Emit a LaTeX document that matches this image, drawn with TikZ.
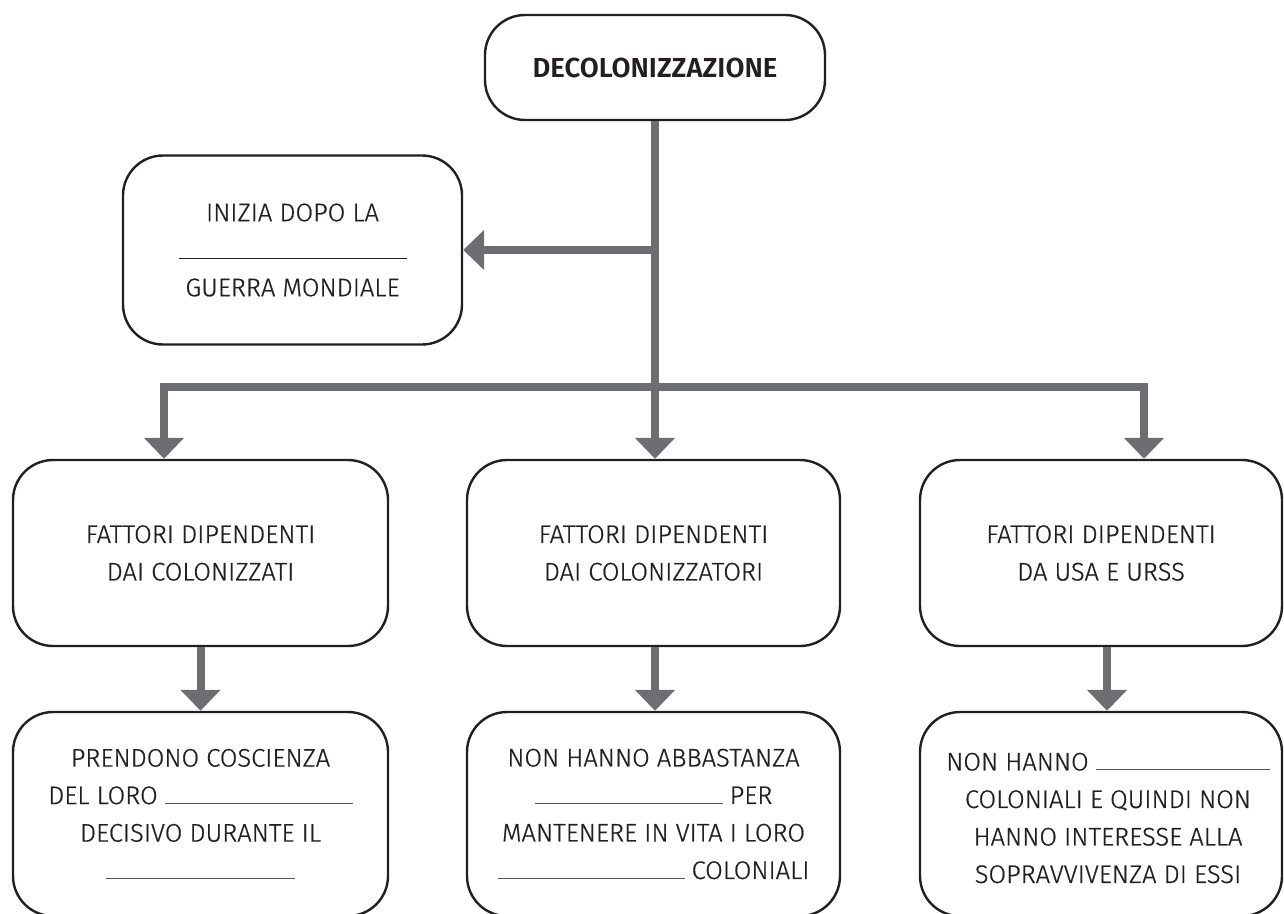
\documentclass[tikz,border=0pt]{standalone}
\usepackage{fontspec}
\setmainfont{Fira Sans}[UprightFont={* Light}, UprightFeatures={FakeBold=0.7}, BoldFont={* SemiBold}]
\usetikzlibrary{arrows.meta}
\definecolor{arr}{HTML}{6D6E71}
\definecolor{txt}{HTML}{231F20}
\definecolor{rulec}{HTML}{58595B}
\newcommand{\blank}[1]{\textcolor{rulec}{\rule{#1}{1.2pt}}}
\begin{document}
\begin{tikzpicture}[x=1pt,y=-1pt,
  box/.style={draw=txt, line width=2.4pt, rounded corners=40pt, align=center, inner sep=0pt,
    font=\fontsize{25.5}{37.5}\selectfont, text=txt},
  plain/.style={align=center, inner sep=0pt, font=\fontsize{25.5}{37.5}\selectfont, text=txt},
  conn/.style={draw=arr, line width=8pt, line join=miter, -{Triangle[width=39pt,length=21pt]}}]
\useasboundingbox (0,0) rectangle (1284,913);
% boxes
\node[box, minimum width=340pt, minimum height=105pt, font=\fontsize{27.5}{30}\selectfont\bfseries] (top) at (655,67.5) {DECOLONIZZAZIONE};
\node[box, minimum width=339pt, minimum height=189pt] (iniz) at (292.5,250) {INIZIA DOPO LA\\\textcolor{txt}{\rule{228pt}{1.2pt}}\\GUERRA MONDIALE};
\node[box, minimum width=375pt, minimum height=186pt] (c1) at (200.5,553) {FATTORI DIPENDENTI\\DAI COLONIZZATI};
\node[box, minimum width=373pt, minimum height=186pt] (c2) at (653.5,553) {FATTORI DIPENDENTI\\DAI COLONIZZATORI};
\node[box, minimum width=362pt, minimum height=186pt] (c3) at (1101,553) {FATTORI DIPENDENTI\\DA USA E URSS};
\node[box, minimum width=375pt, minimum height=204pt] (d1) at (200.5,814) {PRENDONO COSCIENZA\\DEL LORO \blank{188pt}\\DECISIVO DURANTE IL\\\blank{189pt}};
\node[box, minimum width=373pt, minimum height=204pt] (d2) at (653.5,814) {NON HANNO ABBASTANZA\\\blank{188pt} PER\\MANTENERE IN VITA I LORO\\\blank{187pt} COLONIALI};
\node[box, minimum width=362pt, minimum height=204pt] (d3) at (1101,814) {};
\node[plain] (d3t) at (1108,818) {NON HANNO \blank{174pt}\\COLONIALI E QUINDI NON\\HANNO INTERESSE ALLA\\SOPRAVVIVENZA DI ESSI};
% connectors
\coordinate (b1) at (164,387);
\coordinate (b3) at (1144,387);
\draw[conn] (top.south) -- (top.south |- c2.north);
\draw[conn] (top.south |- iniz.east) -- (iniz.east);
\draw[conn] (top.south |- b1) -- (b1) -- (b1 |- c1.north);
\draw[conn] (top.south |- b3) -- (b3) -- (b3 |- c3.north);
\draw[conn] (c1.south) -- (d1.north);
\draw[conn] (top.south |- c2.south) -- (top.south |- d2.north);
\draw[conn] ([xshift=6pt]c3.south) -- ([xshift=6pt]d3.north);
\end{tikzpicture}
\end{document}
